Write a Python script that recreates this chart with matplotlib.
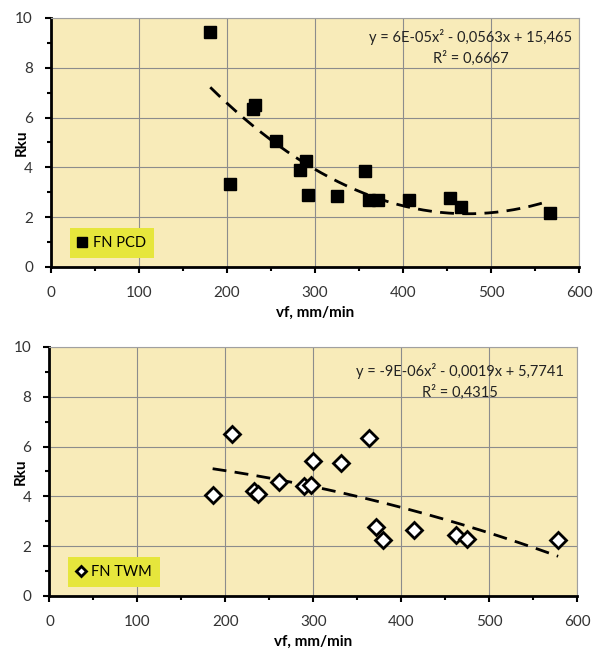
import numpy as np
import matplotlib.pyplot as plt
from matplotlib.ticker import MultipleLocator

plt.rcParams['font.family'] = ['Lato', 'DejaVu Sans']

# FN PCD (top panel)
vf_pcd = [181, 203, 229, 232, 255.5, 283, 290, 292, 325, 357, 361, 372, 406.5, 453, 465.5, 566.6]
rku_pcd = [9.42, 3.35, 6.34, 6.49, 5.07, 3.9, 4.27, 2.89, 2.84, 3.84, 2.7, 2.69, 2.69, 2.79, 2.4, 2.15]
eq_pcd = "y = 6E-05x² - 0,0563x + 15,465\nR² = 0,6667"

# FN TWM (bottom panel)
vf_twm = [185.4, 207, 232, 236.6, 261, 289.6, 297, 299, 331.7, 363.4, 370.8, 379.5, 414, 461.6, 474, 578]
rku_twm = [4.04, 6.49, 4.2, 4.1, 4.56, 4.4, 4.47, 5.44, 5.36, 6.34, 2.79, 2.25, 2.66, 2.45, 2.3, 2.23]
eq_twm = "y = -9E-06x² - 0,0019x + 5,7741\nR² = 0,4315"

bg = '#f8ebb9'
legend_yellow = '#e6e63c'

fig = plt.figure(figsize=(5.99, 6.51), dpi=100)
ax1 = fig.add_axes([0.0851, 0.5899, 0.8815, 0.3825])
ax2 = fig.add_axes([0.0826, 0.0845, 0.8815, 0.3825])


def style_axes(ax):
    ax.set_facecolor(bg)
    ax.set_xlim(0, 600)
    ax.set_ylim(0, 10)
    ax.xaxis.set_major_locator(MultipleLocator(100))
    ax.xaxis.set_minor_locator(MultipleLocator(50))
    ax.yaxis.set_major_locator(MultipleLocator(2))
    ax.yaxis.set_minor_locator(MultipleLocator(1))
    ax.grid(True, which='major', color='#8c8c8c', lw=0.8)
    ax.set_axisbelow(True)
    for s in ['left', 'bottom']:
        ax.spines[s].set_linewidth(2)
        ax.spines[s].set_color('black')
    for s in ['top', 'right']:
        ax.spines[s].set_linewidth(0.8)
        ax.spines[s].set_color('#a0a0a0')
    ax.tick_params(which='major', direction='out', length=4, width=1.5, labelsize=11, colors='black')
    ax.tick_params(which='minor', direction='out', length=3, width=1.5)
    ax.tick_params(axis='x', which='major', pad=10, labelcolor='#333333')
    ax.tick_params(axis='y', which='major', pad=9, labelcolor='#333333')
    ax.set_xlabel('vf, mm/min', fontweight='bold', fontsize=11, labelpad=4)
    ax.set_ylabel('Rku', fontweight='bold', fontsize=11)
    ax.yaxis.set_label_coords(-0.042, 0.5)


def add_trend(ax, x, y, eq, tx, ty):
    # Excel-style 2nd order polynomial trendline
    coef = np.polyfit(x, y, 2)
    xs = np.linspace(min(x), max(x), 200)
    ax.plot(xs, np.polyval(coef, xs), color='black', lw=2, ls=(0, (5, 3)), zorder=2)
    ax.text(tx, ty, eq, ha='center', va='top', fontsize=10.5, color='#222222',
            multialignment='center', linespacing=1.5)


style_axes(ax1)
ax1.plot(vf_pcd, rku_pcd, ls='none', marker='s', ms=8, color='black', label='FN PCD', zorder=3)
add_trend(ax1, vf_pcd, rku_pcd, eq_pcd, 477, 9.55)

style_axes(ax2)
ax2.plot(vf_twm, rku_twm, ls='none', marker='D', ms=8, mfc='white', mec='black', mew=2,
         label='FN TWM', zorder=3)
add_trend(ax2, vf_twm, rku_twm, eq_twm, 466, 9.35)

for ax, ms_scale in ((ax1, 0.9), (ax2, 0.7)):
    leg = ax.legend(loc='lower left', bbox_to_anchor=(0.036, 0.036), borderaxespad=0,
                    frameon=True, fancybox=False, handlelength=0.6, handletextpad=0.4,
                    borderpad=0.55, fontsize=10.5, markerscale=ms_scale)
    leg.get_frame().set_facecolor(legend_yellow)
    leg.get_frame().set_edgecolor('none')
    leg.get_frame().set_alpha(1)

fig.savefig('out.png', dpi=100)
